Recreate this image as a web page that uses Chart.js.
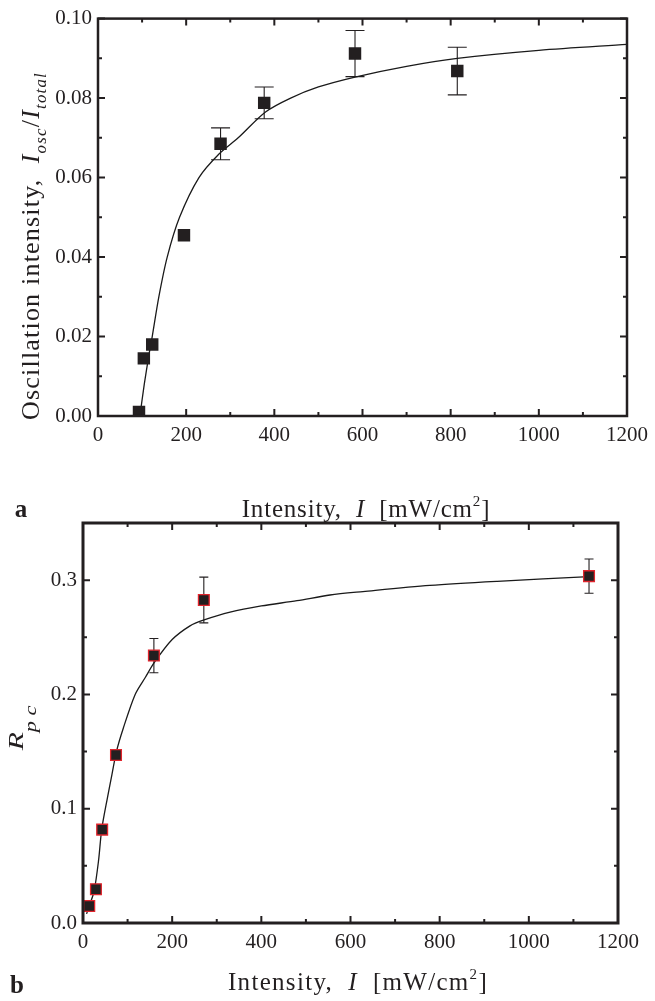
<!DOCTYPE html>
<html>
<head>
<meta charset="utf-8">
<script src="https://cdn.jsdelivr.net/npm/chart.js@4.4.1/dist/chart.umd.min.js"></script>
<style>
  body { margin: 0; background: #fff; }
  #wrap { position: relative; width: 655px; height: 1001px; }
  .box { position: absolute; left: 0; width: 655px; }
  #boxA { top: 0; height: 530px; }
  #boxB { top: 500px; height: 501px; }
</style>
</head>
<body>
<div id="wrap">
  <div class="box" id="boxA"><canvas id="chartA"></canvas></div>
  <div class="box" id="boxB"><canvas id="chartB"></canvas></div>
</div>
<script>
// panel a: measured points
const intensityA = [93, 104, 123, 195, 278, 377, 583, 815];
const oscA = [0.001, 0.0145, 0.018, 0.0455, 0.0685, 0.0788, 0.0912, 0.0868];
const errA = [0, 0, 0, 0, 0.004, 0.004, 0.0058, 0.006];
// panel a: fitted curve
const fitXA = [95, 105, 115, 123, 138, 157, 185, 229, 275, 318, 380, 437, 500, 583, 700, 815, 1000, 1200];
const fitYA = [0, 0.008, 0.015, 0.02, 0.03, 0.04, 0.05, 0.06, 0.066, 0.07, 0.0765, 0.08, 0.0828, 0.0853, 0.088, 0.09, 0.092, 0.0935];

// panel b: measured points
const intensityB = [14, 29, 43, 74, 159, 271, 1135];
const rpcB = [0.0148, 0.0296, 0.0817, 0.147, 0.234, 0.2826, 0.3035];
const errB = [0, 0, 0, 0, 0.015, 0.02, 0.015];
// panel b: fitted curve
const fitXB = [8, 15, 25, 35, 42, 55, 65, 75, 90, 117, 140, 160, 200, 240, 270, 330, 400, 480, 554, 628, 778, 929, 1135];
const fitYB = [0.008, 0.016, 0.028, 0.055, 0.082, 0.11, 0.13, 0.15, 0.17, 0.2, 0.215, 0.228, 0.248, 0.26, 0.265, 0.272, 0.2774, 0.282, 0.287, 0.29, 0.2954, 0.299, 0.303];

const xTicks = [0, 200, 400, 600, 800, 1000, 1200];

const SERIF = '"Liberation Serif", "DejaVu Serif", serif';
const INK = '#231f20';

const pairs = (xs, ys) => xs.map((x, i) => ({ x: x, y: ys[i] }));

// draw a run of text pieces with italics / sub / superscripts
function drawRich(ctx, tx) {
  const size = tx.size;
  ctx.save();
  ctx.translate(tx.x, tx.y);
  ctx.rotate(tx.angle || 0);
  if (tx.stretch) ctx.scale(tx.stretch, 1);
  ctx.fillStyle = INK;
  ctx.textBaseline = 'alphabetic';
  ctx.letterSpacing = (tx.spacing || 0) + 'px';
  const fontOf = p => {
    const s = p.s ? size * p.s : size;
    return (p.b ? 'bold ' : '') + (p.i ? 'italic ' : '') + s + 'px ' + SERIF;
  };
  let total = 0;
  tx.parts.forEach(p => { ctx.font = fontOf(p); total += ctx.measureText(p.t).width; });
  let cx = -total / 2;
  tx.parts.forEach(p => {
    ctx.font = fontOf(p);
    ctx.fillText(p.t, cx, (p.dy || 0) * size);
    cx += ctx.measureText(p.t).width;
  });
  ctx.restore();
}

// box around plot + inward major/minor ticks on all four sides
const framePlugin = {
  id: 'frame',
  afterDraw(chart, args, opts) {
    const ctx = chart.ctx;
    const a = chart.chartArea;
    const xs = chart.scales.x, ys = chart.scales.y;
    ctx.save();
    ctx.strokeStyle = INK;
    ctx.lineWidth = opts.tickWidth;
    xs.ticks.forEach(t => {
      const px = xs.getPixelForValue(t.value);
      const len = t.label !== '' ? 7 : 4;
      ctx.beginPath();
      ctx.moveTo(px, a.bottom); ctx.lineTo(px, a.bottom - len);
      ctx.moveTo(px, a.top); ctx.lineTo(px, a.top + len);
      ctx.stroke();
    });
    ys.ticks.forEach(t => {
      const py = ys.getPixelForValue(t.value);
      const len = t.label !== '' ? 7 : 4;
      ctx.beginPath();
      ctx.moveTo(a.left, py); ctx.lineTo(a.left + len, py);
      ctx.moveTo(a.right, py); ctx.lineTo(a.right - len, py);
      ctx.stroke();
    });
    ctx.lineWidth = opts.lineWidth;
    ctx.strokeRect(a.left, a.top, a.right - a.left, a.bottom - a.top);
    ctx.restore();

    (opts.texts || []).forEach(tx => drawRich(ctx, tx));
  }
};

// vertical error bars behind the markers
const errorBarPlugin = {
  id: 'errorBars',
  beforeDatasetsDraw(chart, args, opts) {
    const ctx = chart.ctx;
    const xs = chart.scales.x, ys = chart.scales.y;
    const ds = chart.data.datasets[0];
    ctx.save();
    ctx.strokeStyle = INK;
    ctx.lineWidth = 1.1;
    ds.data.forEach((p, i) => {
      const e = ds.errors[i];
      if (!e) return;
      const px = xs.getPixelForValue(p.x);
      const top = ys.getPixelForValue(p.y + e);
      const bot = ys.getPixelForValue(p.y - e);
      ctx.beginPath();
      ctx.moveTo(px, top); ctx.lineTo(px, bot);
      ctx.moveTo(px - opts.cap, top); ctx.lineTo(px + opts.cap, top);
      ctx.moveTo(px - opts.cap, bot); ctx.lineTo(px + opts.cap, bot);
      ctx.stroke();
    });
    ctx.restore();
  }
};

function makeChart(id, cfg) {
  return new Chart(document.getElementById(id), {
    type: 'scatter',
    data: {
      datasets: [
        {
          data: cfg.points,
          errors: cfg.errors,
          pointStyle: 'rect',
          pointRadius: cfg.markerR,
          backgroundColor: '#231f20',
          borderColor: cfg.markerEdge,
          borderWidth: cfg.markerEdgeW,
          showLine: false
        },
        {
          data: cfg.fit,
          showLine: true,
          pointRadius: 0,
          borderColor: '#1a1a1a',
          borderWidth: 1.3,
          tension: 0.3,
          fill: false
        }
      ]
    },
    options: {
      responsive: true,
      maintainAspectRatio: false,
      animation: false,
      events: [],
      layout: { padding: cfg.padding },
      plugins: {
        legend: { display: false },
        tooltip: { enabled: false },
        frame: { lineWidth: cfg.frameW, tickWidth: 2, texts: cfg.texts },
        errorBars: { cap: cfg.cap }
      },
      scales: {
        x: {
          type: 'linear', min: 0, max: 1200,
          afterFit: s => { s.height = cfg.xAxisH; },
          border: { display: false },
          grid: { display: false, drawTicks: false },
          ticks: {
            stepSize: 100, padding: 7, maxRotation: 0, autoSkip: false,
            color: INK, font: { family: SERIF, size: 21 },
            callback: v => xTicks.includes(v) ? String(v) : ''
          }
        },
        y: {
          type: 'linear', min: cfg.yMin, max: cfg.yMax,
          afterFit: s => { s.width = cfg.yAxisW; },
          border: { display: false },
          grid: { display: false, drawTicks: false },
          ticks: {
            stepSize: cfg.yStep, padding: 6, autoSkip: false,
            color: INK, font: { family: SERIF, size: 21 },
            callback: cfg.yLabel
          }
        }
      }
    },
    plugins: [framePlugin, errorBarPlugin]
  });
}

const intensityTitle = [
  { t: 'Intensity,  ' }, { t: 'I', i: true }, { t: '  [mW/cm' },
  { t: '2', s: 0.6, dy: -0.45 }, { t: ']' }
];

makeChart('chartA', {
  points: pairs(intensityA, oscA),
  errors: errA,
  fit: pairs(fitXA, fitYA),
  markerR: 8.8, markerEdge: '#231f20', markerEdgeW: 0,
  cap: 9.5,
  padding: { top: 15, right: 22, left: 0, bottom: 0 },
  xAxisH: 114, yAxisW: 98,
  yMin: 0, yMax: 0.1, yStep: 0.01,
  yLabel: v => (Math.round(v * 100) % 2 === 0 ? v.toFixed(2) : ''),
  frameW: 2.5,
  texts: [
    { parts: [{ t: 'Oscillation intensity,  ' }, { t: 'I', i: true }, { t: 'osc', i: true, s: 0.65, dy: 0.25 },
              { t: '/' }, { t: 'I', i: true }, { t: 'total', i: true, s: 0.65, dy: 0.25 }],
      x: 39, y: 246, angle: -Math.PI / 2, size: 26, spacing: 1.2 },
    { parts: intensityTitle, x: 366, y: 517, size: 25, spacing: 0.8 },
    { parts: [{ t: 'a', b: true }], x: 21, y: 517, size: 25 }
  ]
});

makeChart('chartB', {
  points: pairs(intensityB, rpcB),
  errors: errB,
  fit: pairs(fitXB, fitYB),
  markerR: 7.6, markerEdge: '#e0242c', markerEdgeW: 1.3,
  cap: 4.5,
  padding: { top: 23, right: 37, left: 0, bottom: 0 },
  xAxisH: 78, yAxisW: 83,
  yMin: 0, yMax: 0.35, yStep: 0.05,
  yLabel: v => (Math.round(v * 100) % 10 === 0 ? v.toFixed(1) : ''),
  frameW: 3,
  texts: [
    { parts: [{ t: 'R', i: true }, { t: 'p c', i: true, s: 0.75, dy: 0.6 }],
      x: 23, y: 228, angle: -Math.PI / 2, size: 22, stretch: 1.35 },
    { parts: intensityTitle, x: 358, y: 490, size: 25, spacing: 1.3 },
    { parts: [{ t: 'b', b: true }], x: 17, y: 493, size: 25 }
  ]
});
</script>
</body>
</html>
